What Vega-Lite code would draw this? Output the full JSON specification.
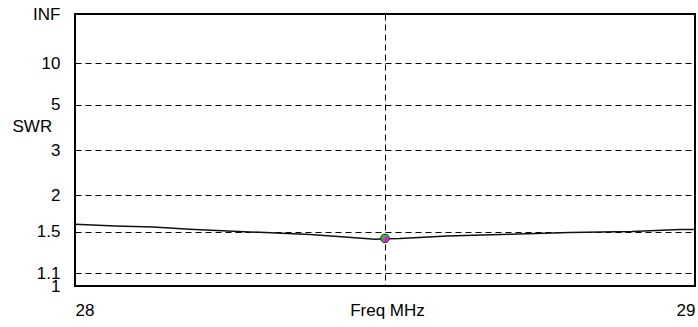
{
  "$schema": "https://vega.github.io/schema/vega-lite/v6.json",
  "width": 620,
  "height": 272,
  "autosize": {"type": "none"},
  "padding": {"left": 75, "top": 14, "right": 3, "bottom": 41},
  "background": "white",
  "config": {
    "view": {"stroke": "#000", "strokeWidth": 2},
    "font": "Liberation Sans"
  },
  "datasets": {
    "curve": [
      {"freq": 28.0, "rho": 0.227},
      {"freq": 28.065, "rho": 0.2208},
      {"freq": 28.126, "rho": 0.2172},
      {"freq": 28.185, "rho": 0.2087},
      {"freq": 28.282, "rho": 0.1988},
      {"freq": 28.379, "rho": 0.1892},
      {"freq": 28.435, "rho": 0.18},
      {"freq": 28.484, "rho": 0.172},
      {"freq": 28.503, "rho": 0.1737},
      {"freq": 28.524, "rho": 0.1745},
      {"freq": 28.6, "rho": 0.184},
      {"freq": 28.702, "rho": 0.19},
      {"freq": 28.798, "rho": 0.1965},
      {"freq": 28.898, "rho": 0.2002},
      {"freq": 28.976, "rho": 0.2076},
      {"freq": 29.0, "rho": 0.2076}
    ],
    "marker": [
      {"freq": 28.5, "rho": 0.175}
    ]
  },
  "layer": [
    {
      "data": {"name": "curve"},
      "mark": {"type": "line", "color": "#111", "strokeWidth": 1.5},
      "encoding": {
        "x": {
          "field": "freq",
          "type": "quantitative",
          "scale": {"domain": [28, 29], "nice": false, "zero": false},
          "axis": {
            "values": [28, 28.5, 29],
            "tickCount": 20,
            "labelExpr": "datum.value == 28.5 ? '' : format(datum.value, '.0f')",
            "labelFlush": true,
            "labelOverlap": false,
            "labelBaseline": "alphabetic",
            "labelPadding": 29,
            "labelFontSize": 17,
            "labelColor": "#000",
            "labelFont": "Liberation Sans",
            "ticks": false,
            "tickSize": 0,
            "domain": false,
            "grid": true,
            "gridColor": "#000",
            "gridDash": [6, 4],
            "gridWidth": 1,
            "gridOpacity": 1,
            "title": "Freq MHz",
            "titleFontSize": 17,
            "titleFontWeight": "normal",
            "titleFont": "Liberation Sans",
            "titleColor": "#000",
            "titleBaseline": "alphabetic",
            "titleY": 29,
            "titleX": 312,
            "titleAlign": "center"
          }
        },
        "y": {
          "field": "rho",
          "type": "quantitative",
          "scale": {"domain": [0, 1], "nice": false, "zero": true},
          "axis": {
            "values": [0, 0.0476, 0.2, 0.3333, 0.5, 0.6667, 0.8182, 1],
            "tickCount": 20,
            "labelExpr": "datum.value >= 0.99 ? 'INF' : datum.value > 0.8 ? '10' : datum.value > 0.6 ? '5' : datum.value > 0.45 ? '3' : datum.value > 0.3 ? '2' : datum.value > 0.15 ? '1.5' : datum.value > 0.02 ? '1.1' : '1'",
            "labelOverlap": false,
            "labelBound": false,
            "labelFlush": false,
            "labelPadding": 15,
            "labelFontSize": 17,
            "labelColor": "#000",
            "labelFont": "Liberation Sans",
            "ticks": false,
            "tickSize": 0,
            "domain": false,
            "grid": true,
            "gridColor": "#000",
            "gridDash": [6, 4],
            "gridWidth": 1,
            "gridOpacity": 1,
            "title": "SWR",
            "titleAngle": 0,
            "titleAlign": "left",
            "titleBaseline": "middle",
            "titleX": -63,
            "titleY": 112,
            "titleFontSize": 17,
            "titleFontWeight": "normal",
            "titleFont": "Liberation Sans",
            "titleColor": "#000"
          }
        }
      }
    },
    {
      "data": {"name": "marker"},
      "mark": {"type": "point", "shape": "circle", "filled": true, "fill": "#1fd21f", "stroke": "#000", "strokeWidth": 0.8, "size": 75, "opacity": 1},
      "encoding": {
        "x": {"field": "freq", "type": "quantitative"},
        "y": {"field": "rho", "type": "quantitative"}
      }
    },
    {
      "data": {"name": "marker"},
      "mark": {"type": "point", "shape": "cross", "filled": true, "fill": "#ff00ff", "size": 35, "opacity": 1, "xOffset": 1, "yOffset": 1},
      "encoding": {
        "x": {"field": "freq", "type": "quantitative"},
        "y": {"field": "rho", "type": "quantitative"}
      }
    }
  ]
}
